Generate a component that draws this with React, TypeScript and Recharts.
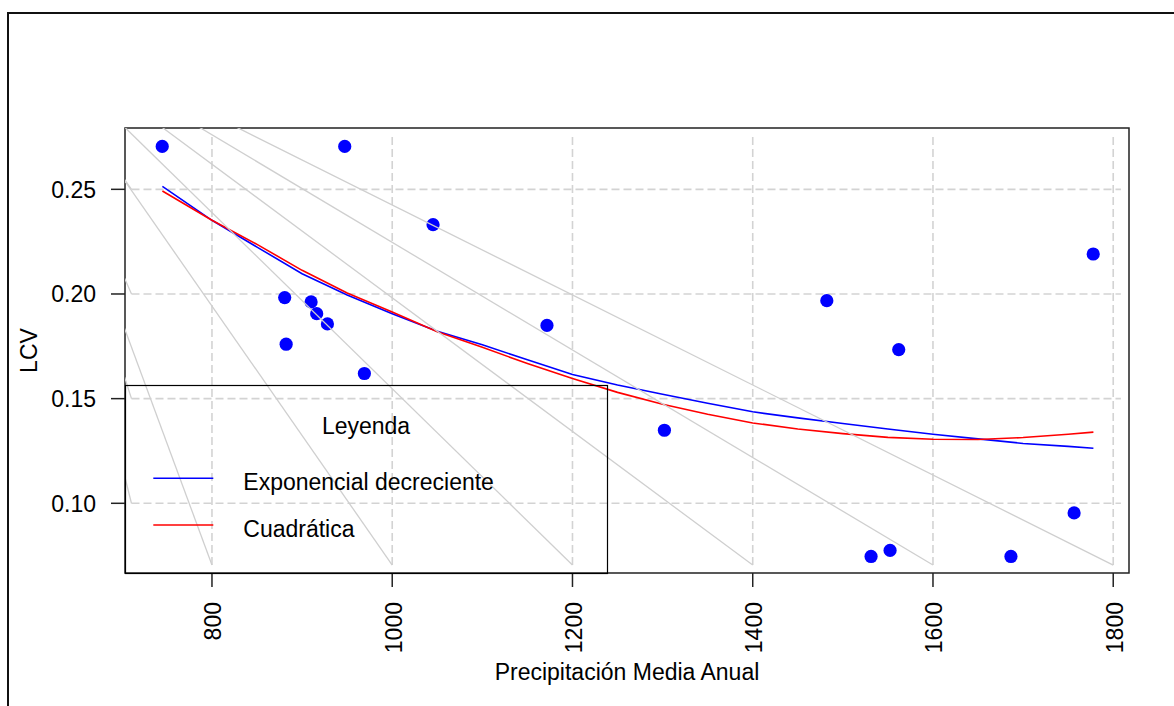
import React from 'react';
import {
  ComposedChart,
  XAxis,
  YAxis,
  Line,
  Scatter,
  ReferenceLine,
  ReferenceArea,
  Legend,
  Label,
} from 'recharts';

const precipitation = [744.8, 880.7, 882.3, 910.0, 916.2, 928.1, 947.3, 969.1, 1045.3, 1171.7, 1302.0, 1482.2, 1531.3, 1552.4, 1562.0, 1686.5, 1756.6, 1777.8];
const lcv = [0.2705, 0.1983, 0.176, 0.1962, 0.1906, 0.1857, 0.2705, 0.162, 0.2331, 0.185, 0.1349, 0.1968, 0.0746, 0.0775, 0.1734, 0.0746, 0.0954, 0.2191];

// ---- fitted curves ----
const fitPrecip = [745, 800, 850, 900, 950, 1000, 1050, 1100, 1150, 1200, 1250, 1300, 1350, 1400, 1450, 1500, 1550, 1600, 1650, 1700, 1750, 1778];
const expFit = [0.2514, 0.2352, 0.2224, 0.2097, 0.1995, 0.1906, 0.1822, 0.1757, 0.1686, 0.1615, 0.1565, 0.1521, 0.1478, 0.1437, 0.1408, 0.1381, 0.1355, 0.133, 0.1308, 0.1286, 0.1272, 0.1263];
const quadFit = [0.2492, 0.2352, 0.2237, 0.2113, 0.2005, 0.1914, 0.182, 0.1745, 0.1668, 0.1596, 0.153, 0.1473, 0.1425, 0.1384, 0.1355, 0.1333, 0.1315, 0.1306, 0.1305, 0.1314, 0.133, 0.134];

// ---- axes / grid ----
const xTicks = [800, 1000, 1200, 1400, 1600, 1800];
const yTicks = [0.1, 0.15, 0.2, 0.25];
const xDomain: [number, number] = [703.5, 1817.5];
const yDomain: [number, number] = [0.0667, 0.2793];
const gridXRange = [710.7, 1808.5];
const gridYRange = [0.0705, 0.276];
const rayOrigin = { x: 573.7, y: 0.3342 };

const seriesNames = ['Exponencial decreciente', 'Cuadrática'];
const legendTitle = 'Leyenda';
const xTitle = 'Precipitación Media Anual';
const yTitle = 'LCV';

const FONT = '"Liberation Sans", Arial, Helvetica, sans-serif';
const FS = 23;

const points = precipitation.map((x, i) => ({ x, y: lcv[i] }));
const expData = fitPrecip.map((x, i) => ({ x, y: expFit[i] }));
const quadData = fitPrecip.map((x, i) => ({ x, y: quadFit[i] }));

const XTick = (props: any) => {
  const { x, y, payload } = props;
  return (
    <text
      x={0}
      y={0}
      transform={`translate(${x + 1},${y}) rotate(-90)`}
      textAnchor="end"
      dy="0.36em"
      fontFamily={FONT}
      fontSize={FS}
      fill="#000"
    >
      {payload.value}
    </text>
  );
};

const YTick = (props: any) => {
  const { x, y, payload } = props;
  return (
    <text x={x} y={y} textAnchor="end" dy="0.36em" fontFamily={FONT} fontSize={FS} fill="#000">
      {Number(payload.value).toFixed(2)}
    </text>
  );
};

const renderLegend = (props: any) => {
  const items = (props.payload || [])
    .filter((p: any) => p.type !== 'none' && seriesNames.indexOf(String(p.value)) >= 0)
    .slice()
    .sort((a: any, b: any) => seriesNames.indexOf(String(a.value)) - seriesNames.indexOf(String(b.value)));
  return (
    <svg width={484} height={190} style={{ display: 'block', overflow: 'visible' }}>
      <rect x={0.5} y={0.5} width={482} height={188} fill="none" stroke="#000" strokeWidth={1.2} />
      <text x={241} y={49} textAnchor="middle" fontFamily={FONT} fontSize={FS} fill="#000">
        {legendTitle}
      </text>
      {items.map((it: any, i: number) => (
        <g key={String(it.value)}>
          <line x1={28.3} x2={88.3} y1={93.3 + i * 46.7} y2={93.3 + i * 46.7} stroke={it.color} strokeWidth={1.5} />
          <text x={118.3} y={105 + i * 46.7} fontFamily={FONT} fontSize={FS} fill="#000">
            {it.value}
          </text>
        </g>
      ))}
    </svg>
  );
};

const gridColor = '#d3d3d3';
const rayColor = '#cfcfcf';

export default function App() {
  return (
    <div style={{ position: 'relative', width: 1174, height: 706, overflow: 'hidden', background: '#fff' }}>
      <style>{'html,body{margin:0;padding:0;overflow:hidden;background:#fff}'}</style>
      <ComposedChart width={1174} height={706} margin={{ top: 128, right: 45, bottom: 33, left: 25 }}>
        <XAxis
          type="number"
          dataKey="x"
          domain={xDomain}
          ticks={xTicks}
          interval={0}
          allowDataOverflow
          axisLine={false}
          tickSize={14}
          tickMargin={15}
          tickLine={{ stroke: '#222', strokeWidth: 1.5 }}
          tick={XTick}
          height={100}
        >
          <Label
            content={(p: any) => {
              const vb = p.viewBox || { x: 125, y: 573, width: 1004, height: 100 };
              return (
                <text x={vb.x + vb.width / 2} y={vb.y + 107} textAnchor="middle" fontFamily={FONT} fontSize={FS} fill="#000">
                  {xTitle}
                </text>
              );
            }}
          />
        </XAxis>
        <YAxis
          type="number"
          dataKey="y"
          domain={yDomain}
          ticks={yTicks}
          interval={0}
          allowDataOverflow
          axisLine={false}
          tickSize={14}
          tickMargin={15}
          tickLine={{ stroke: '#222', strokeWidth: 1.5 }}
          tick={YTick}
          width={100}
        >
          <Label
            content={(p: any) => {
              const vb = p.viewBox || { x: 25, y: 128, width: 100, height: 445 };
              const cx = vb.x + 3.3;
              const cy = vb.y + vb.height / 2;
              return (
                <text
                  x={cx}
                  y={cy}
                  transform={`rotate(-90, ${cx}, ${cy})`}
                  textAnchor="middle"
                  dy="0.36em"
                  fontFamily={FONT}
                  fontSize={FS}
                  fill="#000"
                >
                  {yTitle}
                </text>
              );
            }}
          />
        </YAxis>

        {/* dashed grid */}
        {xTicks.map((v) => (
          <ReferenceLine
            key={'vg' + v}
            segment={[{ x: v, y: gridYRange[0] }, { x: v, y: gridYRange[1] }]}
            stroke={gridColor}
            strokeWidth={1.6}
            strokeDasharray="8 4"
            ifOverflow="visible"
          />
        ))}
        {yTicks.map((v) => (
          <ReferenceLine
            key={'hg' + v}
            segment={[{ x: gridXRange[0], y: v }, { x: gridXRange[1], y: v }]}
            stroke={gridColor}
            strokeWidth={1.6}
            strokeDasharray="8 4"
            ifOverflow="visible"
          />
        ))}

        <Line
          data={expData}
          dataKey="y"
          name={seriesNames[0]}
          stroke="#0000ff"
          strokeWidth={1.6}
          dot={false}
          activeDot={false}
          isAnimationActive={false}
          type="linear"
        />
        <Line
          data={quadData}
          dataKey="y"
          name={seriesNames[1]}
          stroke="#ff0000"
          strokeWidth={1.6}
          dot={false}
          activeDot={false}
          isAnimationActive={false}
          type="linear"
        />
        <Scatter
          data={points}
          dataKey="y"
          legendType="none"
          fill="#0000ff"
          isAnimationActive={false}
          shape={(p: any) => <circle cx={p.cx} cy={p.cy} r={6.6} fill="#0000ff" />}
        />

        {/* gray rays */}
        {xTicks.map((v) => (
          <ReferenceLine
            key={'rv' + v}
            segment={[rayOrigin, { x: v, y: gridYRange[0] }]}
            stroke={rayColor}
            strokeWidth={1.3}
            ifOverflow="hidden"
            zIndex={700}
          />
        ))}
        {yTicks.map((v) => (
          <ReferenceLine
            key={'rh' + v}
            segment={[rayOrigin, { x: gridXRange[0], y: v }]}
            stroke={rayColor}
            strokeWidth={1.3}
            ifOverflow="hidden"
            zIndex={700}
          />
        ))}

        <ReferenceArea
          x1={xDomain[0]}
          x2={xDomain[1]}
          y1={yDomain[0]}
          y2={yDomain[1]}
          fill="none"
          fillOpacity={0}
          stroke="#222"
          strokeWidth={1.5}
          ifOverflow="visible"
        />

        <Legend
          layout="vertical"
          align="center"
          verticalAlign="middle"
          content={renderLegend}
          wrapperStyle={{ position: 'absolute', left: 125, top: 385, width: 484, height: 190, margin: 0, padding: 0 }}
        />
      </ComposedChart>
      <div
        style={{
          position: 'absolute',
          left: 7,
          top: 12,
          width: 1180,
          height: 710,
          borderLeft: '2px solid #111',
          borderTop: '2px solid #111',
          pointerEvents: 'none',
        }}
      />
    </div>
  );
}
